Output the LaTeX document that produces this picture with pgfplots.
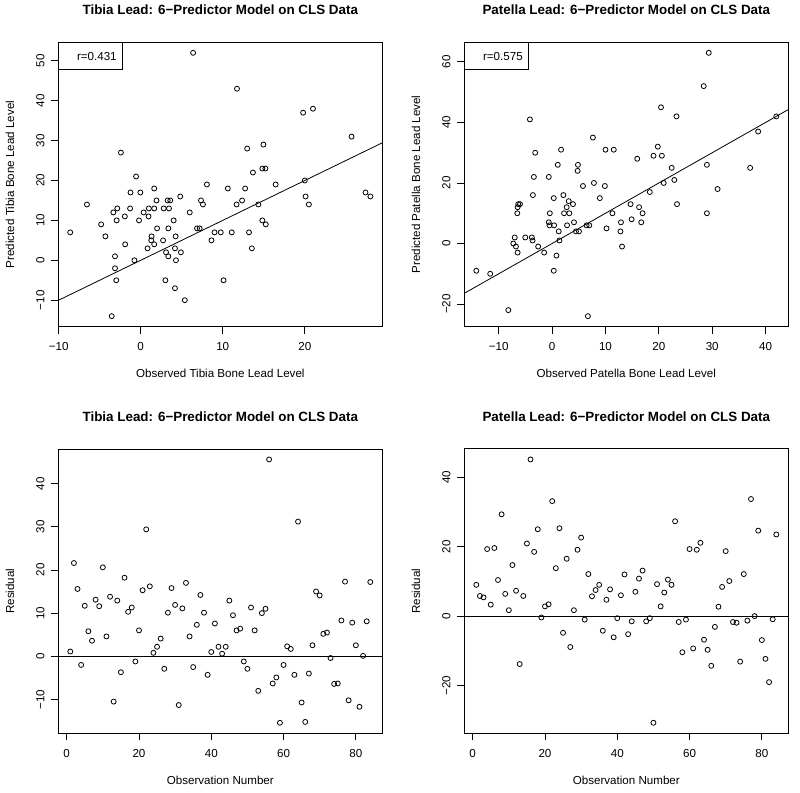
\documentclass[border=0pt]{standalone}
\usepackage{fontspec}
\setmainfont{Liberation Sans}
\usepackage{pgfplots}
\pgfplotsset{compat=1.18}
\pgfplotsset{rstyle/.style={
  scale only axis, width=324pt, height=284.4pt, anchor=south west,
  /pgf/number format/assume math mode=true,
  axis line style={line width=0.8pt},
  tick pos=left, tick align=outside, major tick length=7pt,
  every tick/.style={black, line width=0.8pt},
  tick label style={font=\fontsize{11.6}{14}\selectfont},
  xticklabel style={anchor=center, yshift=-13pt},
  yticklabel style={xshift=-11pt, rotate=90, anchor=center},
  label style={font=\fontsize{11.6}{14}\selectfont},
  title style={font=\bfseries\fontsize{13.4}{16}\selectfont, at={(axis description cs:0.5,1.0935)}, anchor=center},
  xlabel style={at={(axis description cs:0.5,-0.164)}, anchor=center},
  ylabel style={at={(axis description cs:-0.149,0.5)}, anchor=center},
  clip=false,
},
pts/.style={only marks, mark=o, mark size=2.5pt, black, mark options={line width=0.8pt}},
refl/.style={black, line width=0.8pt, no marks},
}
\tikzset{rbox/.style={draw, line width=0.8pt, anchor=north west, minimum width=64pt, minimum height=26.7pt, inner xsep=6pt, inner ysep=0pt, text width=52pt, align=right, font=\fontsize{11.6}{14}\selectfont}}
\begin{document}
\begin{tikzpicture}
\useasboundingbox (0,0) rectangle (800pt,792pt);
% ---------------- Top left
\begin{axis}[rstyle, at={(58.3pt,465.3pt)},
  xmin=-10.04, xmax=29.45, ymin=-16.64, ymax=54.64,
  xtick={-10,0,10,20}, xticklabels={−10,0,10,20},
  ytick={-10,0,10,20,30,40,50}, yticklabels={−10,0,10,20,30,40,50},
  title={Tibia Lead: 6−Predictor Model on CLS Data},
  xlabel={Observed Tibia Bone Lead Level},
  ylabel={Predicted Tibia Bone Lead Level}]
\addplot[pts] coordinates {
(6.39,52) (-2.41,27) (-0.56,21) (1.65,18) (8.07,19) (-1.24,17) (-0.04,17) (4.82,16)
(-6.55,14) (-2.85,13) (-3.33,12) (-2.93,10) (-1.93,11) (-1.29,13) (0.36,12) (1.0,13)
(1.65,13) (0.96,11) (-0.2,10) (1.93,15) (3.29,15) (3.61,15) (2.81,13) (3.45,13)
(4.02,10) (7.35,15) (7.59,14) (5.98,12) (-4.82,9) (-4.3,6) (-8.59,7) (-1.89,4)
(2.0,8) (3.37,8) (1.33,6) (1.29,5) (1.65,4) (2.73,5) (4.26,6) (0.84,3)
(3.09,2) (3.37,1) (4.18,3) (4.9,2) (4.3,0) (-3.13,1) (-0.76,0) (-3.13,-2)
(-2.97,-5) (3.01,-5) (4.18,-7) (5.38,-10) (-3.53,-14) (6.87,8) (7.19,8) (8.63,5)
(9.0,7) (9.76,7)
(11.74,43) (19.8,37) (21.0,38) (25.7,31) (12.98,28) (14.96,29) (14.83,23) (15.2,23)
(13.68,22) (16.45,19) (20.0,20) (10.62,18) (12.73,18) (11.69,14) (12.36,15) (14.34,14)
(20.1,16) (20.5,14) (27.4,17) (28.0,16) (14.83,10) (15.25,9) (11.1,7) (13.2,7)
(13.55,3) (10.1,-5)
};
\addplot[refl] coordinates {(-10.04,-10.04) (29.45,29.45)};
\node[rbox] at (rel axis cs:0,1) {r=0.431};
\end{axis}
% ---------------- Top right
\begin{axis}[rstyle, at={(464.3pt,465.3pt)},
  xmin=-16.45, xmax=44.25, ymin=-27.48, ymax=66.48,
  xtick={-10,0,10,20,30,40}, xticklabels={−10,0,10,20,30,40},
  ytick={-20,0,20,40,60}, yticklabels={−20,0,20,40,60},
  title={Patella Lead: 6−Predictor Model on CLS Data},
  xlabel={Observed Patella Bone Lead Level},
  ylabel={Predicted Patella Bone Lead Level}]
\addplot[pts] coordinates {
(-4.16,41) (7.64,35) (1.68,31) (10.0,31) (11.55,31) (-3.17,30) (1.06,26) (4.84,26)
(4.78,24) (-3.42,22) (-0.62,22) (5.78,19) (7.83,20) (9.88,19) (-3.6,16) (0.31,15)
(2.11,16) (8.94,15) (3.11,14) (3.91,13) (2.73,12) (-6.34,13) (-6.02,13) (-6.46,12)
(-6.52,10) (-0.43,10) (2.24,10) (3.23,10) (11.3,10) (-0.62,7) (-0.5,6) (0.37,6)
(2.8,6) (4.1,7) (6.46,6) (6.96,6) (1.24,4) (4.47,4) (5.03,4) (10.19,5)
(12.9,7) (12.8,4) (1.37,1) (-7.0,2) (-3.8,2) (-3.66,1) (-5.03,2) (-7.27,0)
(-6.77,-1) (-6.46,-3) (-2.61,-1) (-1.49,-3) (0.81,-4) (13.1,-1) (-14.2,-9) (-11.6,-10)
(0.31,-9) (-8.2,-22) (6.7,-24)
(29.35,63) (28.4,52) (20.4,45) (23.3,42) (42.0,42) (38.6,37) (19.8,32) (19.0,29)
(20.56,29) (15.95,28) (22.4,25) (29.0,26) (37.1,25) (22.9,21) (20.9,20) (18.3,17)
(31.0,18) (14.7,13) (16.3,12) (23.4,13) (16.95,10) (29.0,10) (14.9,8) (16.7,7)
};
\addplot[refl] coordinates {(-16.45,-16.45) (44.25,44.25)};
\node[rbox] at (rel axis cs:0,1) {r=0.575};
\end{axis}
% ---------------- Bottom left
\begin{axis}[rstyle, at={(58.3pt,58.7pt)},
  xmin=-2.32, xmax=87.32, ymin=-17.84, ymax=48.04,
  xtick={0,20,40,60,80}, xticklabels={0,20,40,60,80},
  ytick={-10,0,10,20,30,40}, yticklabels={−10,0,10,20,30,40},
  title={Tibia Lead: 6−Predictor Model on CLS Data},
  xlabel={Observation Number},
  ylabel={Residual}]
\addplot[pts] table {
1 1.1
2 21.6
3 15.6
4 -2.0
5 11.7
6 5.8
7 3.6
8 13.1
9 11.6
10 20.6
11 4.6
12 13.8
13 -10.5
14 12.9
15 -3.7
16 18.2
17 10.3
18 11.3
19 -1.2
20 6.0
21 15.3
22 29.4
23 16.2
24 0.8
25 2.2
26 4.1
27 -2.9
28 10.1
29 15.8
30 11.9
31 -11.3
32 11.1
33 17.0
34 4.6
35 -2.5
36 7.3
37 14.2
38 10.1
39 -4.3
40 1.0
41 7.6
42 2.2
43 0.6
44 2.2
45 12.9
46 9.5
47 6.0
48 6.4
49 -1.2
50 -2.9
51 11.3
52 6.0
53 -8.0
54 10.0
55 11.0
56 45.6
57 -6.3
58 -4.9
59 -15.4
60 -2.0
61 2.3
62 1.7
63 -4.3
64 31.2
65 -10.7
66 -15.2
67 -4.0
68 2.55
69 15.0
70 14.1
71 5.2
72 5.5
73 -0.4
74 -6.4
75 -6.3
76 8.3
77 17.3
78 -10.2
79 7.8
80 2.55
81 -11.7
82 0.1
83 8.1
84 17.2
};
\addplot[refl] coordinates {(-2.32,0) (87.32,0)};
\end{axis}
% ---------------- Bottom right
\begin{axis}[rstyle, at={(464.3pt,58.7pt)},
  xmin=-2.32, xmax=87.32, ymin=-33.73, ymax=48.13,
  xtick={0,20,40,60,80}, xticklabels={0,20,40,60,80},
  ytick={-20,0,20,40}, yticklabels={−20,0,20,40},
  title={Patella Lead: 6−Predictor Model on CLS Data},
  xlabel={Observation Number},
  ylabel={Residual}]
\addplot[pts] table {
1 9.0
2 5.8
3 5.4
4 19.3
5 3.3
6 19.6
7 10.4
8 29.3
9 6.4
10 1.7
11 14.7
12 7.3
13 -13.8
14 5.8
15 20.9
16 45.1
17 18.5
18 25.0
19 -0.4
20 2.8
21 3.4
22 33.1
23 13.8
24 25.3
25 -4.8
26 16.5
27 -8.9
28 1.7
29 19.1
30 22.6
31 -1.0
32 12.1
33 5.7
34 7.5
35 9.0
36 -4.2
37 4.7
38 7.7
39 -6.1
40 -0.6
41 6.0
42 12.0
43 -5.2
44 -1.5
45 7.0
46 10.8
47 13.1
48 -1.5
49 -0.6
50 -30.7
51 9.2
52 2.8
53 6.8
54 10.5
55 9.0
56 27.3
57 -1.7
58 -10.4
59 -1.0
60 19.3
61 -9.3
62 19.1
63 21.1
64 -6.8
65 -9.7
66 -14.3
67 -3.1
68 2.7
69 8.4
70 18.7
71 10.1
72 -1.7
73 -1.9
74 -13.1
75 12.1
76 -1.3
77 33.7
78 0.0
79 24.6
80 -6.9
81 -12.3
82 -19.0
83 -0.9
84 23.5
};
\addplot[refl] coordinates {(-2.32,0) (87.32,0)};
\end{axis}
\end{tikzpicture}
\end{document}
